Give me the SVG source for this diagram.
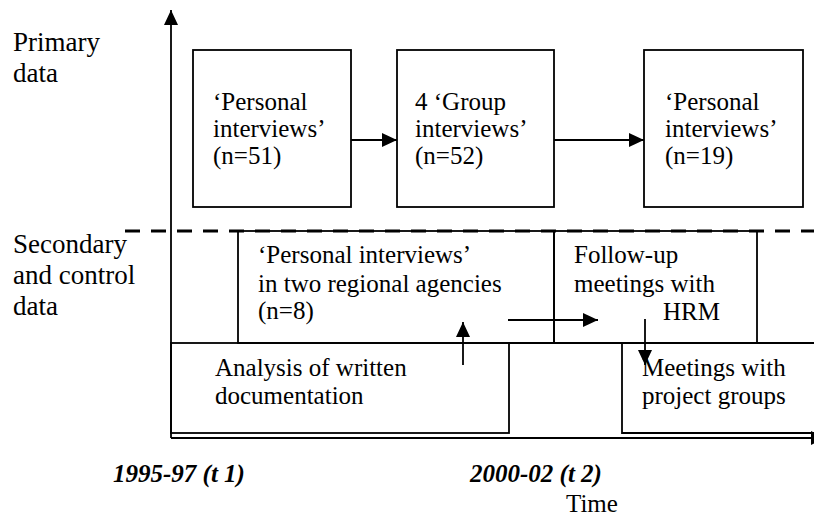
<svg xmlns="http://www.w3.org/2000/svg" width="814" height="519" viewBox="0 0 814 519">
  <style>
    .box { fill: none; stroke: #000; stroke-width: 1.8; }
    .ln { fill: none; stroke: #000; stroke-width: 1.8; }
    .t { font-family: "Liberation Serif", "Times New Roman", serif; font-size: 25px; fill: #000; }
    .lab { font-family: "Liberation Serif", "Times New Roman", serif; font-size: 27px; fill: #000; }
    .yr { font-family: "Liberation Serif", "Times New Roman", serif; font-size: 25px; font-weight: bold; font-style: italic; fill: #000; }
    .dash { fill: none; stroke: #000; stroke-width: 3; stroke-dasharray: 15 11; }
  </style>
  <defs>
    <marker id="ah" markerUnits="userSpaceOnUse" markerWidth="16" markerHeight="14" refX="15" refY="7" orient="auto">
      <path d="M0,0 L15,7 L0,14 Z" fill="#000"/>
    </marker>
  </defs>

  <rect width="814" height="519" fill="#fff"/>

  <!-- row labels -->
  <g id="label-primary">
    <text class="lab" x="13" y="51">Primary</text>
    <text class="lab" x="13" y="82">data</text>
  </g>
  <g id="label-secondary">
    <text class="lab" x="13" y="253">Secondary</text>
    <text class="lab" x="13" y="284">and control</text>
    <text class="lab" x="13" y="315">data</text>
  </g>

  <!-- primary data boxes -->
  <g id="personal-1">
    <rect class="box" x="193" y="50" width="158" height="157"/>
    <text class="t" x="213" y="110">‘Personal</text>
    <text class="t" x="213" y="137">interviews’</text>
    <text class="t" x="213" y="164">(n=51)</text>
  </g>
  <g id="group">
    <rect class="box" x="397" y="50" width="157" height="157"/>
    <text class="t" x="415" y="110">4 ‘Group</text>
    <text class="t" x="415" y="137">interviews’</text>
    <text class="t" x="415" y="164">(n=52)</text>
  </g>
  <g id="personal-2">
    <rect class="box" x="644" y="50" width="159" height="157"/>
    <text class="t" x="665" y="110">‘Personal</text>
    <text class="t" x="665" y="137">interviews’</text>
    <text class="t" x="665" y="164">(n=19)</text>
  </g>

  <!-- secondary and control data boxes -->
  <g id="regional">
    <rect class="box" x="238" y="231" width="316" height="112"/>
    <text class="t" x="258" y="263">‘Personal interviews’</text>
    <text class="t" x="258" y="292">in two regional agencies</text>
    <text class="t" x="258" y="319">(n=8)</text>
  </g>
  <g id="follow-up">
    <rect class="box" x="554" y="231" width="203" height="112"/>
    <text class="t" x="574" y="263">Follow-up</text>
    <text class="t" x="574" y="292">meetings with</text>
    <text class="t" x="663" y="320">HRM</text>
  </g>
  <g id="documentation">
    <rect class="box" x="171" y="343" width="338" height="90"/>
    <text class="t" x="215" y="376">Analysis of written</text>
    <text class="t" x="215" y="404">documentation</text>
  </g>
  <g id="project-groups">
    <path class="ln" d="M820,343 H622 V433 H820"/>
    <text class="t" x="642" y="376">Meetings with</text>
    <text class="t" x="642" y="404">project groups</text>
  </g>
  <line class="ln" x1="509" y1="343" x2="622" y2="343"/>

  <!-- divider between primary and secondary data -->
  <line class="dash" x1="125" y1="231" x2="814" y2="231"/>

  <!-- axes and connectors -->
  <g id="connectors">
    <line class="ln" x1="171" y1="438" x2="171" y2="10" marker-end="url(#ah)"/>
    <line class="ln" x1="171" y1="438" x2="826" y2="438" marker-end="url(#ah)"/>
    <line class="ln" x1="351" y1="140" x2="397" y2="140" marker-end="url(#ah)"/>
    <line class="ln" x1="554" y1="140" x2="644" y2="140" marker-end="url(#ah)"/>
    <line class="ln" x1="463" y1="365" x2="463" y2="322" marker-end="url(#ah)"/>
    <line class="ln" x1="508" y1="320" x2="598" y2="320" marker-end="url(#ah)"/>
    <line class="ln" x1="645" y1="319" x2="645" y2="365" marker-end="url(#ah)"/>
  </g>

  <!-- time axis labels -->
  <g id="time-labels">
    <text class="yr" x="113" y="482">1995-97 (t 1)</text>
    <text class="yr" x="470" y="482">2000-02 (t 2)</text>
    <text class="t" x="566" y="512">Time</text>
  </g>
</svg>
